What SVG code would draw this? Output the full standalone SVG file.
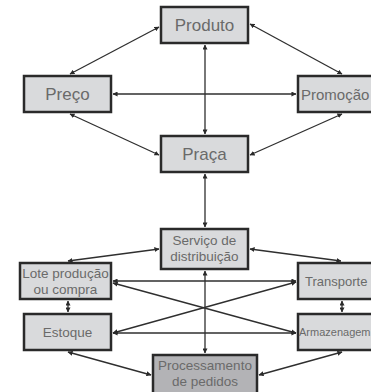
<svg xmlns="http://www.w3.org/2000/svg" width="371" height="392" viewBox="0 0 371 392">
<defs>
<marker id="ah" viewBox="0 0 6 6" refX="5.5" refY="3" markerWidth="5" markerHeight="5" markerUnits="userSpaceOnUse" orient="auto-start-reverse">
<path d="M0,0 L6,3 L0,6 Z" fill="#2a2a2a"/>
</marker>
<style>
.box{fill:#d9dadc;stroke:#2a2a2a;stroke-width:2.5}
.dark{fill:#b3b3b6}
.t{font-family:"Liberation Sans",Arial,sans-serif;fill:#6a6a6a;text-anchor:middle}
.st{text-anchor:start}
.big{font-size:17px}
.sm{font-size:13.5px}
.c line{stroke:#2f2f2f;stroke-width:1.3;marker-start:url(#ah);marker-end:url(#ah)}
</style>
</defs>
<rect width="371" height="392" fill="#ffffff"/>
<g class="c" id="connectors">
<line x1="159" y1="27" x2="70" y2="74"/>
<line x1="250" y1="24" x2="342" y2="74"/>
<line x1="205" y1="45" x2="205" y2="134"/>
<line x1="113" y1="94" x2="296" y2="94"/>
<line x1="70" y1="114" x2="159" y2="155"/>
<line x1="342" y1="114" x2="250" y2="155"/>
<line x1="205" y1="174" x2="205" y2="227"/>
<line x1="159" y1="249" x2="68" y2="261"/>
<line x1="250" y1="249" x2="341" y2="261"/>
<line x1="205" y1="271" x2="205" y2="353"/>
<line x1="113" y1="281" x2="296" y2="281"/>
<line x1="113" y1="283" x2="296" y2="333"/>
<line x1="113" y1="333" x2="296" y2="282"/>
<line x1="113" y1="333" x2="296" y2="333"/>
<line x1="68" y1="301" x2="68" y2="312"/>
<line x1="342" y1="301" x2="342" y2="312"/>
<line x1="68" y1="352" x2="151" y2="375"/>
<line x1="342" y1="352" x2="259" y2="375"/>
</g>
<g id="produto"><rect class="box" x="161" y="7" width="87" height="36"/><text class="t big" x="204.5" y="31">Produto</text></g>
<g id="preco"><rect class="box" x="24" y="76" width="87" height="36"/><text class="t big" x="67.5" y="100">Preço</text></g>
<g id="promocao"><rect class="box" x="298" y="76" width="90" height="36"/><text class="t st" x="301" y="99.5" font-size="15">Promoção</text></g>
<g id="praca"><rect class="box" x="161" y="136" width="87" height="36"/><text class="t big" x="204.5" y="160">Praça</text></g>
<g id="servico"><rect class="box" x="161" y="229" width="87" height="40"/><text class="t sm" x="204.5" y="245">Serviço de</text><text class="t sm" x="204.5" y="261">distribuição</text></g>
<g id="lote"><rect class="box" x="20" y="263" width="91" height="36"/><text class="t sm" x="65.5" y="278">Lote produção</text><text class="t sm" x="65.5" y="294">ou compra</text></g>
<g id="transporte"><rect class="box" x="298" y="263" width="90" height="36"/><text class="t st" x="305" y="285.5" font-size="13">Transporte</text></g>
<g id="estoque"><rect class="box" x="24" y="314" width="87" height="36"/><text class="t sm" x="67.5" y="337">Estoque</text></g>
<g id="armazenagem"><rect class="box" x="298" y="314" width="90" height="36"/><text class="t st" x="299" y="336" font-size="11">Armazenagem</text></g>
<g id="processamento"><rect class="box dark" x="153" y="355" width="104" height="42"/><text class="t sm" x="205" y="370">Processamento</text><text class="t sm" x="205" y="386">de pedidos</text></g>
</svg>
